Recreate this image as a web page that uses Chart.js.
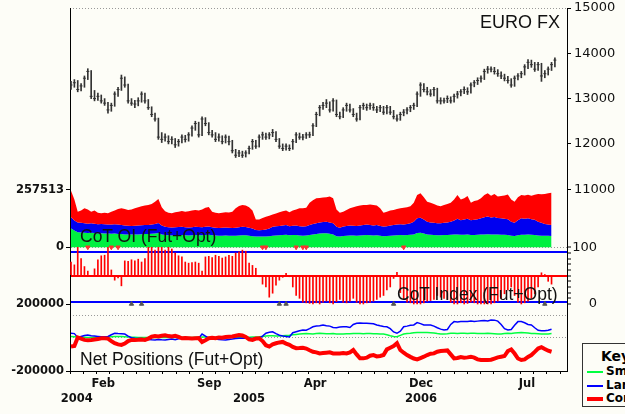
<!DOCTYPE html>
<html><head><meta charset="utf-8">
<script src="https://cdn.jsdelivr.net/npm/chart.js@4/dist/chart.umd.min.js"></script>
<style>
html,body{margin:0;padding:0;background:#fdfdf7;overflow:hidden;}
#wrap{position:relative;width:625px;height:414px;overflow:hidden;background:#fdfdf7;}
#c{position:absolute;left:0;top:0;}
.lbl{position:absolute;font-family:"Liberation Sans",Arial,sans-serif;color:#111;white-space:nowrap;line-height:1;}
#key{position:absolute;left:582px;top:343px;width:120px;height:64px;border:1px solid #333;box-sizing:border-box;background:#fdfdf7;font-family:"DejaVu Sans",sans-serif;white-space:nowrap;}
#key .t{position:absolute;left:18px;top:4px;font-weight:bold;font-size:14px;}
#key .r{position:absolute;left:4px;font-size:12px;font-weight:bold;line-height:14px;white-space:nowrap;}
#key .r i{display:inline-block;width:16px;vertical-align:middle;margin-right:3px;}
</style></head>
<body><div id="wrap">
<canvas id="c" width="625" height="414"></canvas>
<div class="lbl" style="left:480px;top:13px;font-size:18px;">EURO FX</div>
<div class="lbl" style="left:80px;top:228px;font-size:17.5px;">CoT OI (Fut+Opt)</div>
<div class="lbl" style="left:397px;top:286px;font-size:17.5px;">CoT Index (Fut+Opt)</div>
<div class="lbl" style="left:80px;top:351px;font-size:17.5px;">Net Positions (Fut+Opt)</div>
<div id="key"><div class="t">Key</div>
<div class="r" style="top:20px"><i style="border-top:2px solid #00ff40"></i>Small Specs</div>
<div class="r" style="top:34px"><i style="border-top:2px solid #0000ff"></i>Large Specs</div>
<div class="r" style="top:47px"><i style="border-top:4px solid #ff0000"></i>Commercials</div>
</div>
</div>
<script>
// ---- price (weekly bars) ----
const priceClose = [13300,13350,13200,13280,13450,13600,13050,13000,13050,12950,
12900,12750,12850,13100,13200,13450,13300,12950,12900,12880,
12950,13100,12950,12800,12650,12550,12150,12100,12150,12050,
12100,11980,12050,12150,12100,12200,12350,12450,12200,12550,
12450,12250,12200,12100,12150,12050,12150,12050,11850,11750,
11800,11750,11800,11900,12050,11950,12150,12200,12150,12200,
12250,12100,11950,11900,11950,11900,12050,12200,12150,12150,
12200,12200,12400,12650,12800,12850,12900,12750,12950,12650,
12600,12750,12850,12750,12650,12550,12800,12850,12800,12850,
12800,12750,12800,12700,12800,12700,12600,12550,12650,12700,
12750,12800,12850,13100,13300,13200,13150,13100,13200,12950,
12950,12950,13000,12950,13050,13100,13150,13200,13150,13300,
13350,13400,13450,13600,13650,13650,13600,13550,13500,13450,
13400,13300,13450,13500,13550,13700,13800,13750,13650,13750,
13500,13550,13650,13750,13850];
const priceLow = [13200,13250,13150,13170,13250,13420,13000,12950,12960,12900,
12850,12680,12720,12830,13050,13180,13250,12900,12850,12800,
12840,12920,12900,12760,12600,12500,12100,12030,12060,12000,
12000,11920,11950,12020,12040,12060,12170,12300,12150,12180,
12400,12200,12150,12050,12060,12000,12020,11980,11800,11700,
11720,11700,11710,11780,11880,11900,11930,12100,12100,12110,
12160,12050,11900,11850,11860,11850,11880,12030,12100,12090,
12120,12140,12180,12380,12620,12760,12800,12700,12720,12600,
12550,12580,12720,12700,12600,12500,12530,12760,12740,12760,
12740,12690,12710,12650,12660,12650,12550,12500,12520,12620,
12660,12710,12760,12820,13050,13150,13080,13050,13060,12900,
12880,12900,12910,12900,12920,13010,13060,13110,13090,13120,
13260,13310,13360,13420,13560,13590,13540,13490,13440,13390,
13340,13250,13270,13410,13460,13520,13660,13690,13600,13620,
13380,13460,13520,13620,13700];
const priceHigh = [13380,13420,13400,13330,13500,13660,13620,13180,13120,13080,
13000,12920,12900,13150,13250,13520,13480,13320,13000,12960,
13020,13150,13120,12980,12820,12680,12570,12250,12220,12180,
12160,12120,12100,12200,12190,12250,12400,12500,12480,12600,
12580,12470,12300,12250,12220,12180,12200,12170,12080,11880,
11860,11840,11850,11950,12100,12080,12200,12260,12240,12250,
12320,12270,12120,12000,12000,11980,12100,12250,12240,12210,
12250,12260,12450,12700,12850,12920,12980,12930,13000,12970,
12700,12800,12900,12880,12780,12680,12850,12900,12880,12900,
12890,12830,12850,12830,12850,12830,12740,12640,12700,12760,
12800,12850,12900,13150,13350,13330,13250,13200,13250,13230,
13020,13010,13060,13040,13100,13160,13200,13260,13240,13350,
13400,13460,13500,13650,13710,13700,13690,13640,13590,13540,
13490,13440,13500,13550,13600,13750,13860,13850,13800,13800,
13780,13620,13700,13800,13900];

// ---- CoT open interest, cumulative layer tops (thousands of contracts) ----
const oiTotal = [254,215,160,165,176,170,160,165,155,153,
155,153,160,165,172,176,172,168,170,175,
180,185,188,190,195,205,217,180,162,155,
153,158,160,163,160,162,165,168,165,170,
178,181,160,155,153,155,157,156,160,175,
186,190,188,180,165,125,125,132,137,142,
147,152,157,162,165,158,165,170,175,176,
178,200,212,220,222,224,225,228,220,170,
155,160,168,175,180,185,188,190,190,192,
190,188,175,155,160,165,168,172,175,178,
180,185,200,235,243,225,205,200,195,188,
185,190,195,200,215,235,215,220,230,200,
208,212,220,235,243,232,240,228,230,233,
237,215,205,225,235,233,236,232,236,240,
238,240,243,245];
const oiSpecsTop = [135,120,112,110,108,106,108,106,104,105,
104,103,102,104,102,100,98,97,96,97,
98,99,100,100,102,105,109,98,92,90,
89,90,91,92,90,89,90,92,91,90,
92,93,90,88,87,88,89,88,87,88,
90,92,91,88,84,78,77,78,80,85,
92,95,96,98,100,95,97,98,95,93,
95,100,105,108,112,114,115,112,108,92,
88,93,96,98,97,96,98,100,102,100,
98,100,96,93,95,98,100,102,104,103,
105,108,115,130,133,125,115,112,110,108,
108,110,112,115,120,128,122,125,128,122,
124,126,130,135,138,134,136,132,130,128,
126,115,110,122,130,128,130,126,124,115,
110,105,102,100];
const oiSmallTop = [85,75,68,66,65,64,65,64,62,63,
62,62,61,62,60,60,58,57,57,58,
58,59,60,60,61,62,64,58,55,54,
53,54,55,55,54,53,54,55,54,54,
55,56,54,53,52,52,53,52,52,52,
53,54,54,52,50,48,48,48,49,50,
52,53,54,55,56,54,55,55,53,52,
53,55,58,60,62,63,63,61,58,50,
49,51,52,53,53,52,53,54,55,54,
53,54,52,50,51,52,53,54,55,54,
55,56,58,64,65,62,58,56,55,54,
54,55,55,56,57,58,56,56,57,55,
55,56,57,58,59,58,58,57,56,56,
55,52,51,54,56,56,57,56,55,53,
52,52,52,51];

// ---- CoT index (0-100) ----
const cotIndex = [74,69,100,80,66,58,50,62,78,85,
86,100,60,42,46,32,76,75,78,76,
79,74,80,100,100,95,100,100,95,100,
97,90,85,83,74,72,73,74,72,58,
83,84,82,86,84,81,83,86,84,90,
92,95,93,72,68,63,48,35,30,12,
19,33,42,47,54,48,30,15,10,3,
2,1,0,2,0,3,5,2,0,4,
8,3,2,5,10,3,0,0,2,3,
5,8,12,15,25,30,45,56,20,8,
3,2,0,0,0,2,5,6,8,15,
12,10,8,3,0,0,2,0,1,3,
2,0,0,0,0,0,2,5,10,18,
25,30,15,3,0,2,5,10,18,30,
55,52,40,35];
// weeks carrying the small signal marks at the top (100) and bottom (0) of the index panel
const signalTopWeeks = [5, 12, 14, 57, 58, 67, 69, 70, 99];
const signalBottomWeeks = [18, 21, 62, 64, 96, 141];

// ---- net positions (thousands of contracts) ----
const netCommercials = [-53,-50,2,-5,-13,-15,-13,-10,-8,-3,
-3,-5,-20,-33,-40,-43,-35,-20,-13,-13,
-12,-10,-13,-5,6,10,8,12,15,10,
8,12,5,-3,-2,-3,-5,-3,-2,-25,
-15,-3,0,-3,2,0,4,6,8,12,
16,14,5,-10,-13,-5,-3,-20,-45,-53,
-40,-33,-28,-25,-35,-43,-55,-63,-62,-60,
-65,-75,-84,-88,-94,-92,-90,-88,-94,-94,
-94,-92,-94,-88,-74,-100,-124,-124,-120,-108,
-104,-112,-110,-104,-70,-60,-50,-33,-74,-90,
-104,-115,-125,-130,-122,-114,-104,-96,-94,-84,
-80,-78,-76,-100,-124,-122,-116,-120,-118,-114,
-120,-130,-134,-134,-134,-132,-125,-118,-114,-110,
-80,-70,-95,-125,-134,-130,-115,-104,-85,-65,
-57,-68,-78,-84];
const netLarge = [27,25,2,8,14,16,12,10,8,6,
6,8,18,27,25,24,22,10,0,-3,
-5,-5,-8,-10,-12,-13,-10,-12,-13,-10,
-8,-12,-6,-3,-3,-5,-3,-2,-3,22,
10,-3,-5,-8,-10,-12,-13,-10,-8,-5,
-3,-3,-2,-3,-5,-3,-2,10,27,33,
36,25,15,10,8,5,30,36,42,47,
45,55,66,70,72,77,72,70,62,60,
64,66,66,62,80,87,88,87,87,86,
84,77,72,68,66,55,35,27,40,66,
70,75,77,91,85,77,76,77,70,60,
52,47,50,80,97,95,97,97,98,100,
98,100,102,103,101,107,106,100,80,55,
47,50,75,97,97,90,80,77,60,45,
42,42,45,51];
const netSmall = [8,6,4,3,3,2,2,3,3,2,
3,4,6,8,8,7,6,4,3,3,
2,2,1,2,2,3,2,3,2,1,
2,3,2,2,3,2,2,3,2,5,
4,2,2,1,2,2,3,2,2,3,
3,2,3,3,4,5,6,8,10,12,
12,10,10,12,14,15,18,20,22,24,
25,24,22,25,27,26,24,24,25,22,
22,23,24,24,25,26,25,24,25,26,
24,24,23,22,18,12,8,6,14,22,
25,27,30,32,32,32,31,30,28,25,
23,22,24,27,27,26,27,27,26,27,
27,26,25,26,27,26,24,22,23,25,
27,26,28,30,32,30,28,26,25,24,
22,22,23,25];

// ---- axis labels / reference levels ----
const priceTicks = [11000, 12000, 13000, 14000, 15000];
const oiTicks = [0, 257513];
const netTicks = [-200000, 200000];
const netDotted = [0, 132000];
const indexTicks = [0, 100];
const indexMinor = [0,10,20,30,40,50,60,70,80,90,100];
const indexLines = {lower: 4, mid: 50, upper: 91};
const xLabels = {'-2': ['', '2004'], '0': ['Feb', ''], '8': ['Sep', ''], '11': ['', '2005'], '16': ['Apr', ''], '24': ['Dec', '2006'], '32': ['Jul', '']};

// ---- scale layout (value ranges so each panel sits in its band) ----
const X_MIN = -0.3, X_MAX = 147.6;
const FEB_WEEK = 9.61, TICK_WEEKS = 3.94;
const PRICE_MIN = 6987, PRICE_MAX = 15000;
const OI_MIN = -555930, OI_MAX = 1075450;
const IDX_MIN = -118.2, IDX_MAX = 522;
const NET_MIN = -200000, NET_MAX = 1983460;

const K = 1000;
const pts = (arr, m = 1) => arr.map((v, i) => ({x: i, y: v * m}));
const xTickList = [];
for (let k = -2; k <= 35; k++) xTickList.push({k, value: FEB_WEEK + k * TICK_WEEKS});

const fontL = {family: 'DejaVu Sans', weight: 'bold', size: 11.5};
const fontR = {family: 'DejaVu Sans', size: 13};
const clear = 'rgba(0,0,0,0)';

const mctx = document.createElement('canvas').getContext('2d');
mctx.font = 'bold 11.5px "DejaVu Sans"';
const netWidest = Math.max(...netTicks.map(v => mctx.measureText(String(v)).width));

const fixV = w => s => { s.width = w; s.paddingTop = 0; s.paddingBottom = 0; };

new Chart(document.getElementById('c'), {
  type: 'line',
  data: {datasets: [
    {label: 'Small Specs OI', data: pts(oiSmallTop, K), yAxisID: 'yOI', fill: 'origin', backgroundColor: '#00f040', borderWidth: 0, pointRadius: 0, order: 30},
    {label: 'Large Specs OI', data: pts(oiSpecsTop, K), yAxisID: 'yOI', fill: '-1', backgroundColor: '#0000f0', borderWidth: 0, pointRadius: 0, order: 29},
    {label: 'Commercials OI', data: pts(oiTotal, K), yAxisID: 'yOI', fill: '-1', backgroundColor: '#ff0000', borderWidth: 0, pointRadius: 0, order: 28},
    {type: 'bar', label: 'CoT Index', data: pts(cotIndex), yAxisID: 'yIdx', base: indexLines.mid, backgroundColor: '#ff0000', barThickness: 1, grouped: false, order: 20},
    {label: 'Index top signal', data: signalTopWeeks.map(w => ({x: w, y: 100})), yAxisID: 'yIdx', showLine: false, pointStyle: 'triangle', rotation: 180, pointRadius: 2.5, pointBackgroundColor: '#ff3030', pointBorderColor: '#ff3030', pointBorderWidth: 1, order: 19},
    {label: 'Index bottom signal', data: signalBottomWeeks.map(w => ({x: w, y: 0})), yAxisID: 'yIdx', showLine: false, pointStyle: 'triangle', pointRadius: 2.5, pointBackgroundColor: '#555', pointBorderColor: '#555', pointBorderWidth: 1, order: 19},
    {type: 'bar', label: 'EURO FX range', data: priceLow.map((v, i) => ({x: i, y: [v, priceHigh[i]]})), yAxisID: 'yPrice', backgroundColor: '#333', barThickness: 1, grouped: false, order: 15},
    {label: 'EURO FX close', data: pts(priceClose), yAxisID: 'yPrice', showLine: false, pointStyle: 'line', pointRadius: 1.5, pointBorderColor: '#333', pointBorderWidth: 1, order: 14},
    {label: 'Small Specs', data: pts(netSmall, K), yAxisID: 'yNet', borderColor: '#00ff40', borderWidth: 1.5, pointRadius: 0, fill: false, order: 6},
    {label: 'Large Specs', data: pts(netLarge, K), yAxisID: 'yNet', borderColor: '#0000ff', borderWidth: 1.5, pointRadius: 0, fill: false, order: 5},
    {label: 'Commercials', data: pts(netCommercials, K), yAxisID: 'yNet', borderColor: '#ff0000', borderWidth: 4, pointRadius: 0, fill: false, order: 4}
  ]},
  options: {
    responsive: false, animation: false,
    layout: {padding: {top: 8, left: 0, right: 0, bottom: 0}},
    plugins: {legend: {display: false}, tooltip: {enabled: false}},
    elements: {line: {tension: 0}},
    scales: {
      x: {
        type: 'linear', position: 'bottom', min: X_MIN, max: X_MAX, offset: false,
        afterFit: s => { s.height = 43; s.paddingLeft = 0; s.paddingRight = 0; },
        afterBuildTicks: s => { s.ticks = xTickList.map(t => ({value: t.value})); },
        ticks: {autoSkip: false, maxRotation: 0, padding: 2, color: '#111', font: {...fontL, lineHeight: 1.35},
          callback: (v, i) => xLabels[String(xTickList[i].k)] || ''},
        grid: {drawOnChartArea: false, tickLength: 3, color: '#000'},
        border: {color: '#000', width: 1}
      },
      yOI: {
        type: 'linear', position: 'left', weight: 2, min: OI_MIN, max: OI_MAX,
        afterFit: fixV(70),
        afterBuildTicks: s => { s.ticks = oiTicks.map(v => ({value: v})); },
        ticks: {padding: 2, color: '#111', font: fontL, callback: v => String(v)},
        grid: {drawOnChartArea: true, tickLength: 4, color: c => c.tick && c.tick.value === 0 ? '#999' : clear, tickColor: '#000'},
        border: {color: '#000', width: 1, dash: [1, 2]}
      },
      yNet: {
        type: 'linear', position: 'left', weight: 1, min: NET_MIN, max: NET_MAX,
        afterFit: fixV(0),
        afterBuildTicks: s => { s.ticks = netTicks.concat(netDotted).map(v => ({value: v})); },
        ticks: {mirror: true, crossAlign: 'far', padding: -6 - netWidest, color: '#111', font: fontL, callback: v => netTicks.includes(v) ? String(v) : ''},
        grid: {drawOnChartArea: true, tickLength: 4, color: c => c.tick && netDotted.includes(c.tick.value) ? '#999' : clear,
          tickColor: c => c.tick && netTicks.includes(c.tick.value) ? '#000' : clear},
        border: {display: false, dash: [1, 2]}
      },
      yIdx: {
        type: 'linear', position: 'right', weight: 1, min: IDX_MIN, max: IDX_MAX,
        afterFit: fixV(0),
        afterBuildTicks: s => { s.ticks = indexMinor.concat([indexLines.lower, indexLines.upper]).map(v => ({value: v})); },
        ticks: {mirror: true, crossAlign: 'near', padding: 30, color: '#111', font: fontR, callback: v => indexTicks.includes(v) ? String(v) : ''},
        grid: {drawOnChartArea: true, tickLength: 4, lineWidth: 2,
          color: c => !c.tick ? clear : (c.tick.value === indexLines.mid ? '#ff0000' : (c.tick.value === indexLines.lower || c.tick.value === indexLines.upper) ? '#0000ff' : clear),
          tickColor: c => c.tick && indexMinor.includes(c.tick.value) ? '#000' : clear, tickWidth: 1},
        border: {display: false}
      },
      yPrice: {
        type: 'linear', position: 'right', weight: 2, min: PRICE_MIN, max: PRICE_MAX,
        afterFit: fixV(58),
        afterBuildTicks: s => { s.ticks = priceTicks.map(v => ({value: v})); },
        ticks: {padding: 3, crossAlign: 'near', color: '#111', font: fontR, callback: v => String(v)},
        grid: {drawOnChartArea: true, tickLength: 4, color: c => c.tick && c.tick.value === PRICE_MAX ? '#999' : clear, tickColor: '#000'},
        border: {color: '#000', width: 1, dash: [1, 2]}
      }
    }
  }
});
</script>
</body></html>
